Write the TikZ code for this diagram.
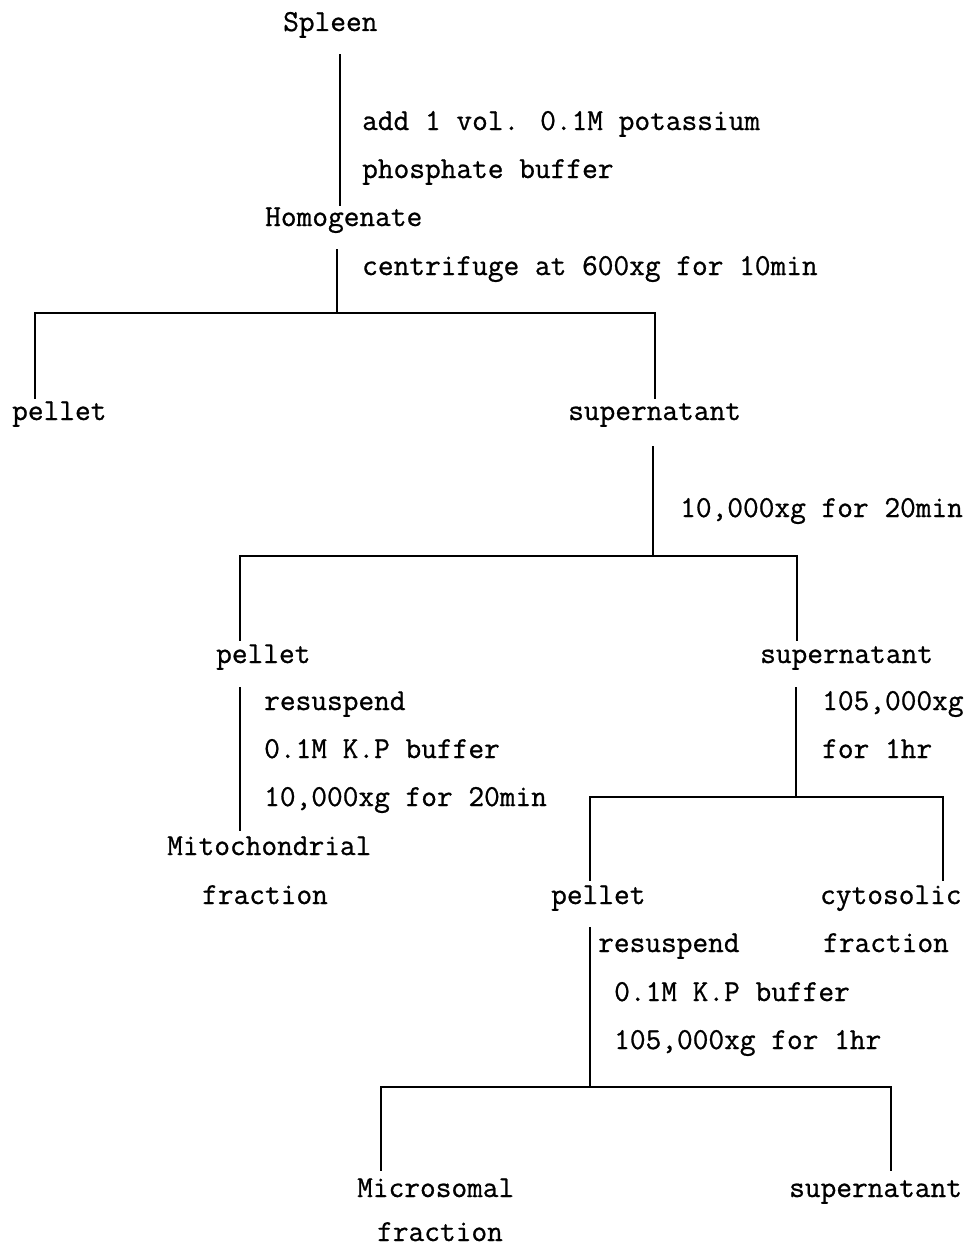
\documentclass[tikz,border=0pt]{standalone}
\usepackage{fontspec}
\newfontfamily\diagmono{Latin Modern Mono}[FakeBold=0.8]
\begin{document}
\begin{tikzpicture}[x=1pt,y=-1pt,
  lbl/.style={anchor=base west, inner sep=0pt, font=\fontsize{30.5}{36}\selectfont\diagmono\bfseries},
  ln/.style={line width=1.4pt, line cap=rect}]
\useasboundingbox (0,0) rectangle (971,1247);
% texts
\node[lbl] (spleen) at (283,31) {Spleen};
\node[lbl] (t1) at (362,130) {add 1 vol. 0.1M potassium};
\node[lbl] (t2) at (362,178) {phosphate buffer};
\node[lbl] (homog) at (265,226) {Homogenate};
\node[lbl] (t3) at (362,275) {centrifuge at 600xg for 10min};
\node[lbl] (pel1) at (12,420) {pellet};
\node[lbl] (sup1) at (568,420) {supernatant};
\node[lbl] (t4) at (680,517) {10,000xg for 20min};
\node[lbl] (pel2) at (216,663) {pellet};
\node[lbl] (sup2) at (760,663) {supernatant};
\node[lbl] (t5) at (264,710) {resuspend};
\node[lbl] (t6) at (264,758) {0.1M K.P buffer};
\node[lbl] (t7) at (264,806) {10,000xg for 20min};
\node[lbl] (mito) at (167,855) {Mitochondrial};
\node[lbl] (mito2) at (202,904) {fraction};
\node[lbl] (t8) at (822,710) {105,000xg};
\node[lbl] (t9) at (822,758) {for 1hr};
\node[lbl] (pel3) at (551,904) {pellet};
\node[lbl] (cyto) at (820,904) {cytosolic};
\node[lbl] (cyto2) at (823,952) {fraction};
\node[lbl] (t10) at (598,952) {resuspend};
\node[lbl] (t11) at (614,1001) {0.1M K.P buffer};
\node[lbl] (t12) at (614,1049) {105,000xg for 1hr};
\node[lbl] (micro) at (357,1197) {Microsomal};
\node[lbl] (micro2) at (377,1241) {fraction};
\node[lbl] (sup3) at (789,1197) {supernatant};
% connector end points
\coordinate (a1) at (340,55);  \coordinate (a2) at (340,205);
\coordinate (b1) at (337,250); \coordinate (b2) at (337,313);
\coordinate (b3) at (35,313);  \coordinate (b4) at (35,398);
\coordinate (b5) at (655,313); \coordinate (b6) at (655,398);
\coordinate (c1) at (653,447); \coordinate (c2) at (653,556);
\coordinate (c3) at (240,556); \coordinate (c4) at (240,640);
\coordinate (c5) at (797,556); \coordinate (c6) at (797,640);
\coordinate (d1) at (240,688); \coordinate (d2) at (240,830);
\coordinate (e1) at (796,688); \coordinate (e2) at (796,797);
\coordinate (e3) at (590,797); \coordinate (e4) at (590,880);
\coordinate (e5) at (943,797); \coordinate (e6) at (943,880);
\coordinate (f1) at (590,928); \coordinate (f2) at (590,1087);
\coordinate (f3) at (381,1087); \coordinate (f4) at (381,1170);
\coordinate (f5) at (891,1087); \coordinate (f6) at (891,1170);
% connectors
\draw[ln] (a1) -- (a2);
\draw[ln] (b1) -- (b2);
\draw[ln] (b4) -- (b3) -- (b5) -- (b6);
\draw[ln] (c1) -- (c2);
\draw[ln] (c4) -- (c3) -- (c5) -- (c6);
\draw[ln] (d1) -- (d2);
\draw[ln] (e1) -- (e2);
\draw[ln] (e4) -- (e3) -- (e5) -- (e6);
\draw[ln] (f1) -- (f2);
\draw[ln] (f4) -- (f3) -- (f5) -- (f6);
\end{tikzpicture}
\end{document}
